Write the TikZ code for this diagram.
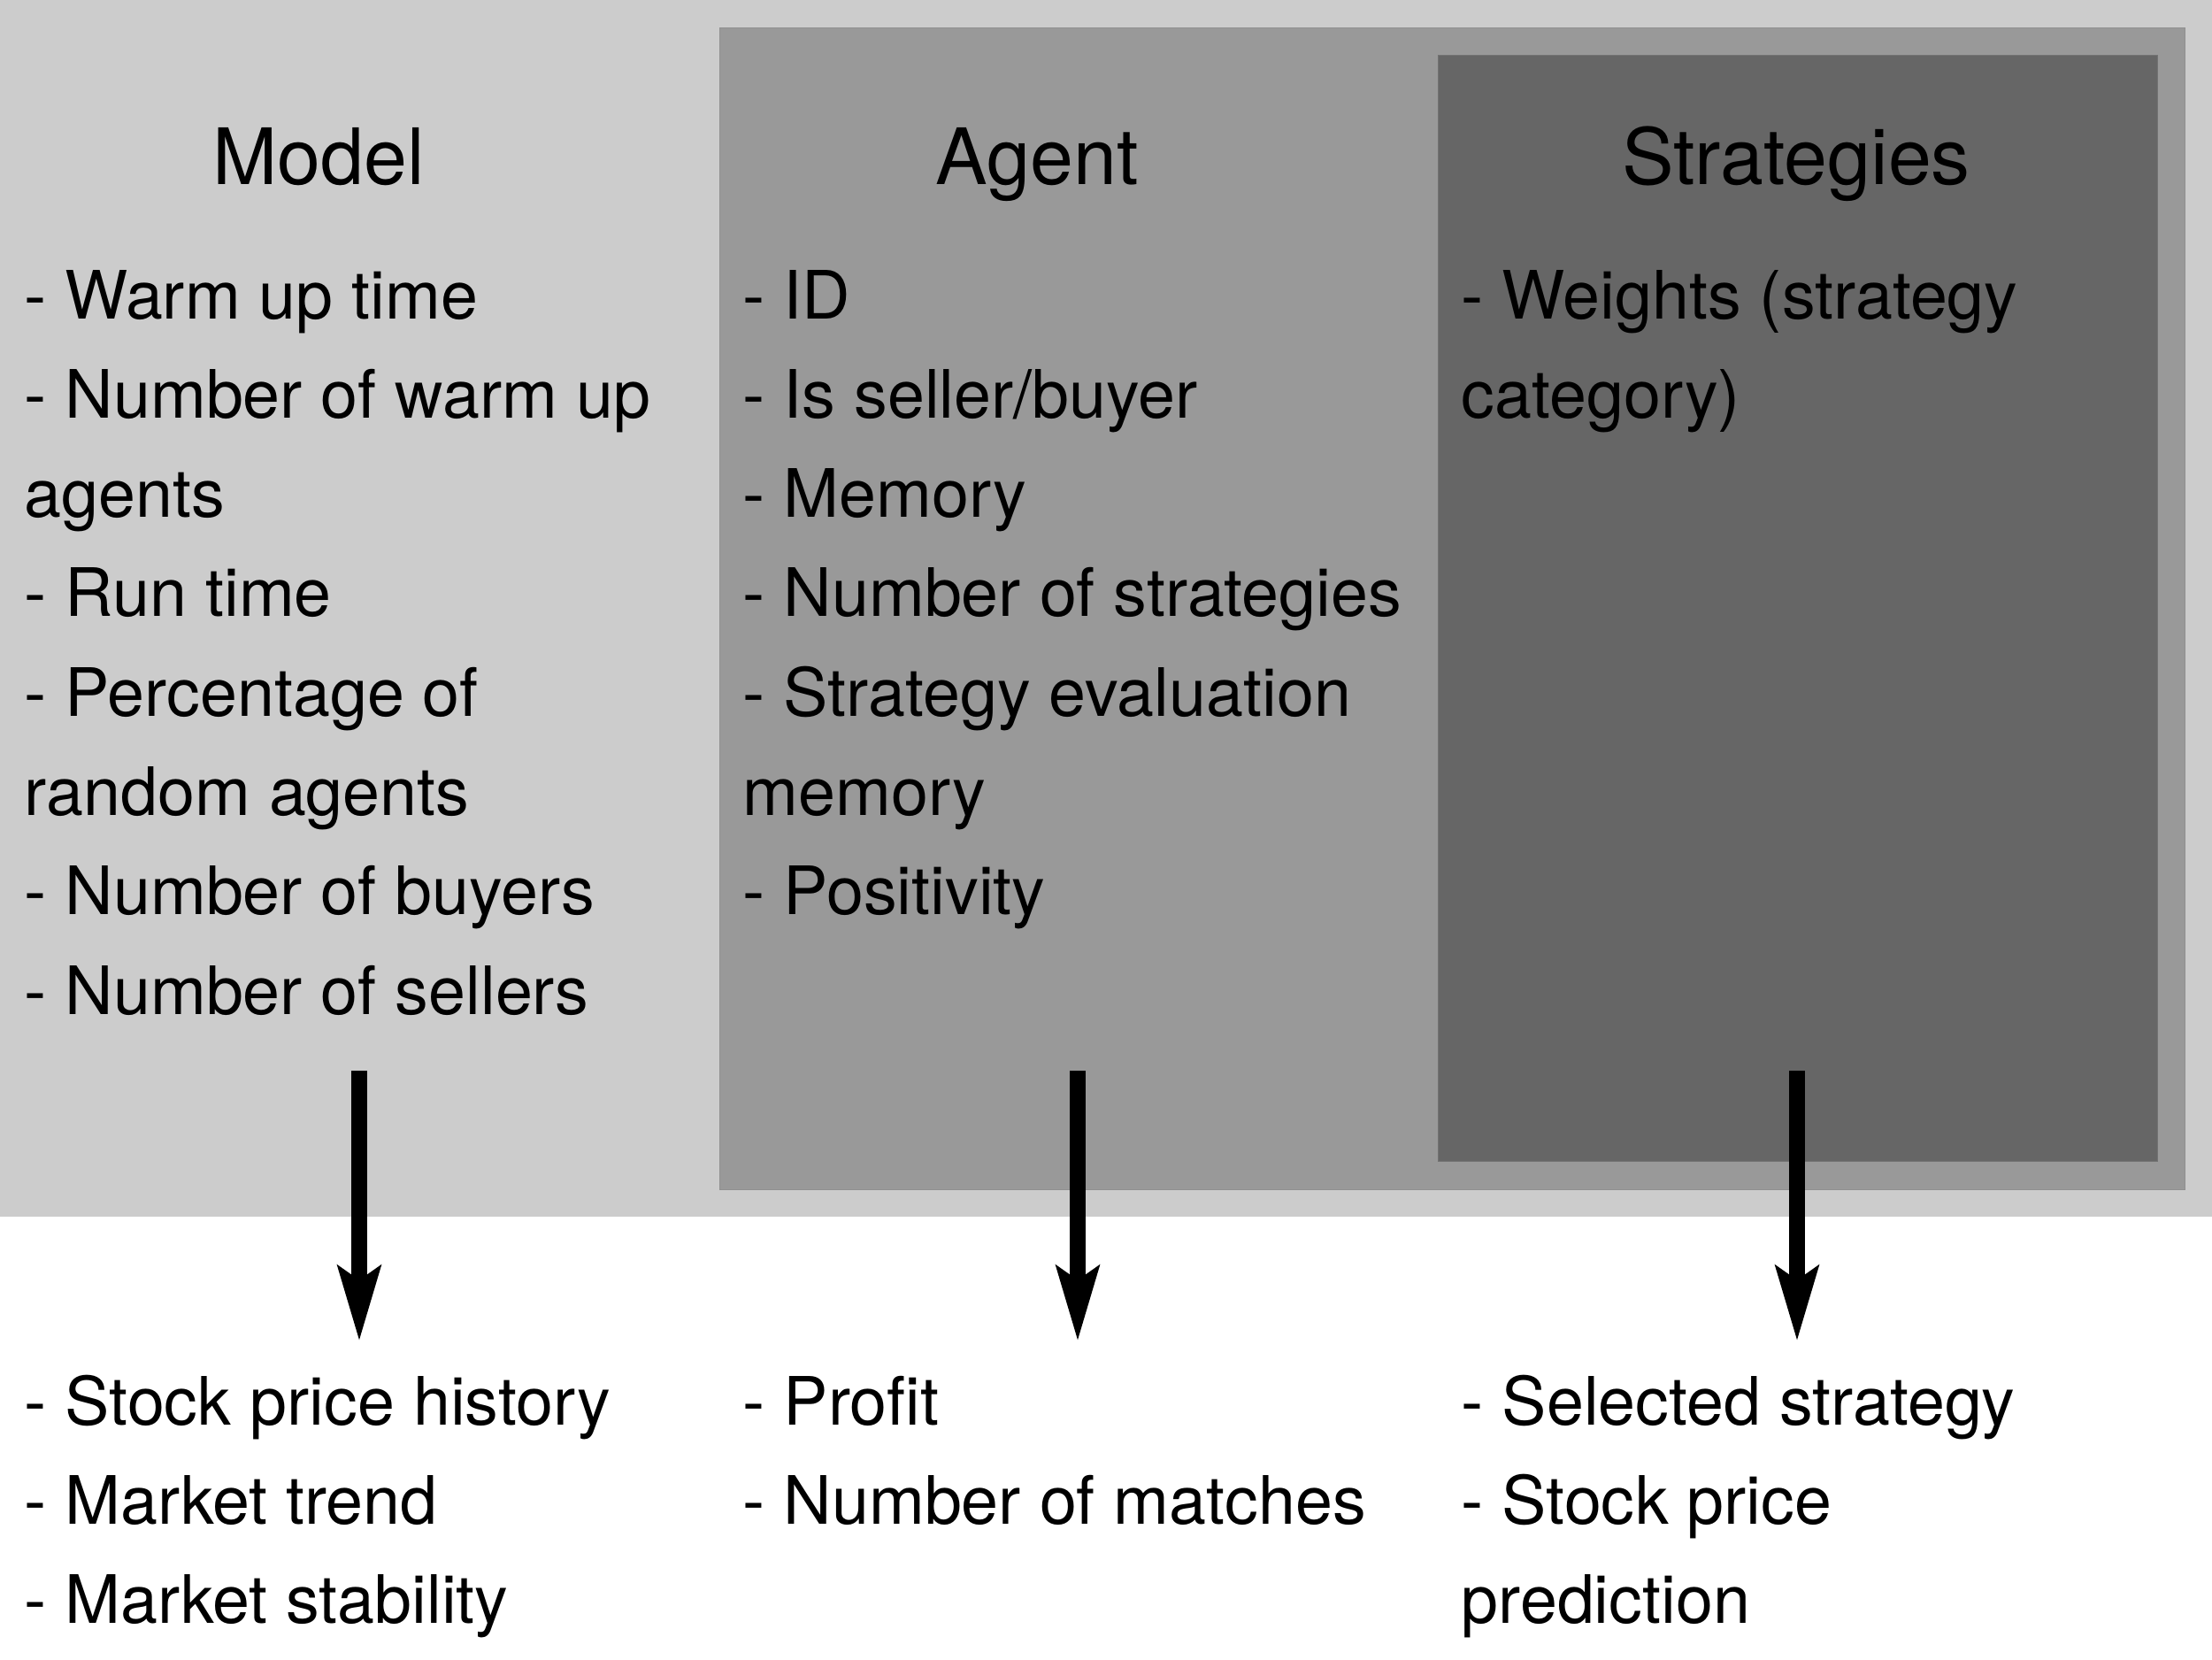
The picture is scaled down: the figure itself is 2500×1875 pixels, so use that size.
\documentclass[tikz,border=0pt]{standalone}
\usepackage{fontspec}
\setmainfont{TeX Gyre Heros}
\usetikzlibrary{arrows.meta}
\definecolor{lightbg}{HTML}{CCCCCC}
\definecolor{midbg}{HTML}{999999}
\definecolor{midedge}{HTML}{909090}
\definecolor{darkbg}{HTML}{666666}
\definecolor{darkedge}{HTML}{727272}
\begin{document}
\begin{tikzpicture}[x=0.01cm,y=-0.01cm,
  body/.style={anchor=base west, inner sep=0pt, font=\fontsize{21.45}{26}\selectfont},
  title/.style={anchor=base, inner sep=0pt, font=\fontsize{25}{30}\selectfont},
  flow/.style={line width=0.18cm, -{Stealth[length=0.84cm,width=0.47cm,inset=0.15cm]}}]
\useasboundingbox (0,0) rectangle (2500,1875);
\fill[white] (0,0) rectangle (2500,1875);
\fill[lightbg] (0,0) rectangle (2500,1375);
\filldraw[fill=midbg, draw=midedge, line width=0.01cm] (813,31) rectangle (2469,1344);
\filldraw[fill=darkbg, draw=darkedge, line width=0.01cm] (1625,62) rectangle (2438,1312);

\node[title] (tmodel) at (360,208) {Model};
\node[title] (tagent) at (1172,208) {Agent};
\node[title] (tstrat) at (2030,208) {Strategies};

\foreach \t [count=\i] in {- Warm up time, - Number of warm up, agents, - Run time, - Percentage of, random agents, - Number of buyers, - Number of sellers}
  \node[body] (m\i) at (27,{360+(\i-1)*112.3}) {\t};
\foreach \t [count=\i] in {- ID, - Is seller/buyer, - Memory, - Number of strategies, - Strategy evaluation, memory, - Positivity}
  \node[body] (a\i) at (839,{360+(\i-1)*112.3}) {\t};
\foreach \t [count=\i] in {- Weights (strategy, category)}
  \node[body] (s\i) at (1651,{360+(\i-1)*112.3}) {\t};

\foreach \t [count=\i] in {- Stock price history, - Market trend, - Market stability}
  \node[body] (mo\i) at (27,{1610+(\i-1)*112.3}) {\t};
\foreach \t [count=\i] in {- Profit, - Number of matches}
  \node[body] (ao\i) at (839,{1610+(\i-1)*112.3}) {\t};
\foreach \t [count=\i] in {- Selected strategy, - Stock price, prediction}
  \node[body] (so\i) at (1651,{1610+(\i-1)*112.3}) {\t};

\coordinate (m-from) at (406,1210);
\coordinate (m-to) at (406,1516);
\coordinate (a-from) at (1218,1210);
\coordinate (a-to) at (1218,1516);
\coordinate (s-from) at (2031,1210);
\coordinate (s-to) at (2031,1516);
\draw[flow] (m-from) -- (m-to);
\draw[flow] (a-from) -- (a-to);
\draw[flow] (s-from) -- (s-to);
\end{tikzpicture}
\end{document}
